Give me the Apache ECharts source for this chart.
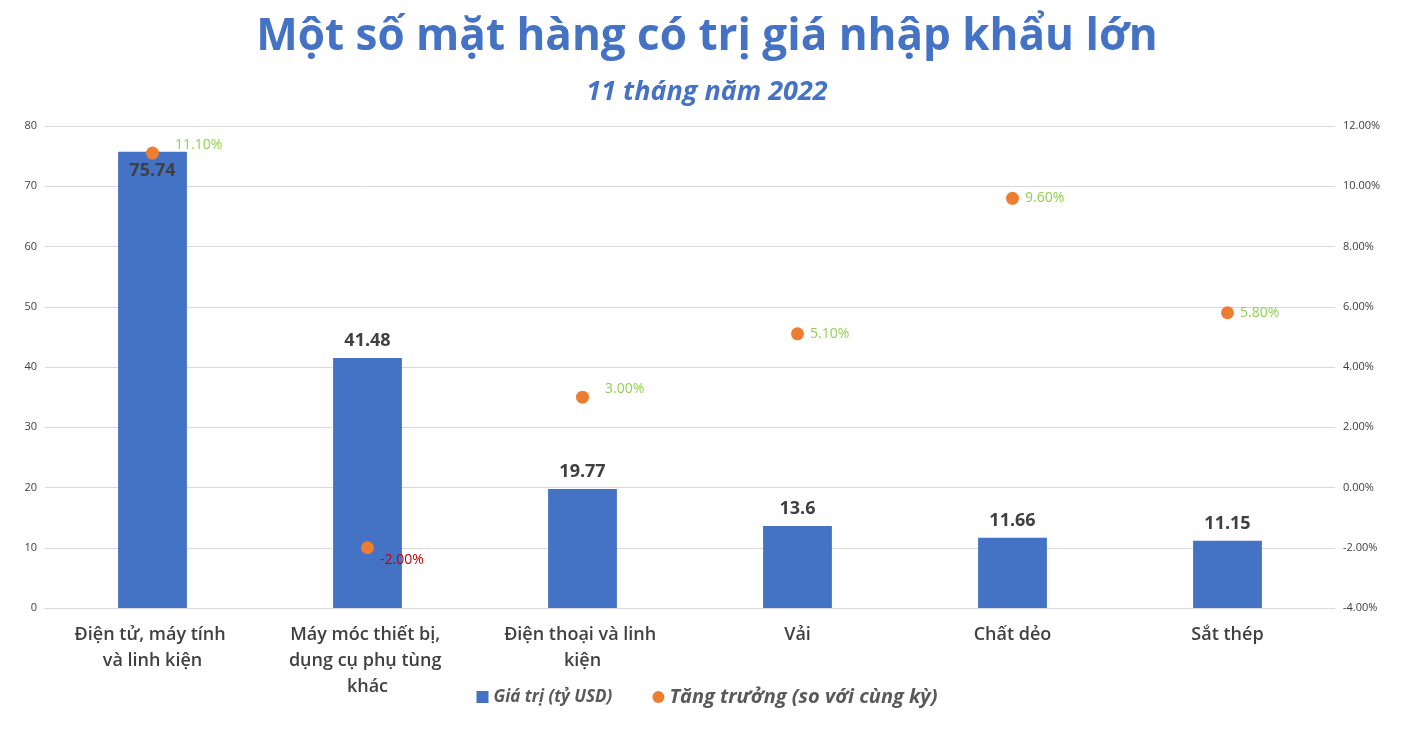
<!DOCTYPE html>
<html><head><meta charset="utf-8">
<script src="https://cdn.jsdelivr.net/npm/echarts@6/dist/echarts.min.js"></script>
<style>html,body{margin:0;padding:0;background:#fff}#main{width:1414px;height:736px}</style>
</head><body><div id="main"></div>
<script>
// Một số mặt hàng nhập khẩu lớn
var categories = ["Điện tử, máy tính và linh kiện", "Máy móc thiết bị, dụng cụ phụ tùng khác", "Điện thoại và linh kiện", "Vải", "Chất dẻo", "Sắt thép"];
var values = [75.74, 41.48, 19.77, 13.6, 11.66, 11.15];
var growth = [11.10, -2.00, 3.00, 5.10, 9.60, 5.80];

var chart = echarts.init(document.getElementById("main"));
var font = "'Open Sans', 'Noto Sans', sans-serif";
var option = {
	textStyle: { fontFamily: font },
	title: [
		{
			text: "Một số mặt hàng có trị giá nhập khẩu lớn",
			left: "center", top: 10,
			textStyle: { fontSize: 44, fontWeight: "bold", color: "#4472C4", fontFamily: font }
		},
		{
			text: "11 tháng năm 2022",
			left: "center", top: 74,
			textStyle: { fontSize: 27, fontWeight: "bold", fontStyle: "italic", color: "#4472C4", fontFamily: font }
		}
	],
	legend: {
		bottom: 24, left: "center", itemGap: 40,
		textStyle: { fontSize: 20, fontStyle: "italic", fontWeight: "bold", color: "#595959" },
		data: [
			{ name: "Giá trị (tỷ USD)", icon: "rect", textStyle: { fontSize: 17 } },
			{ name: "Tăng trưởng (so với cùng kỳ)", icon: "circle" }
		],
		itemWidth: 12, itemHeight: 12
	},
	grid: { left: 45, right: 79, top: 126, bottom: 128 },
	xAxis: {
		type: "category", data: categories,
		axisLine: { lineStyle: { color: "#d9d9d9" } },
		axisTick: { show: false },
		axisLabel: { interval: 0, hideOverlap: false, color: "#404040", fontSize: 18, fontWeight: 600, width: 212, overflow: "break", lineHeight: 26, margin: 14 }
	},
	yAxis: [
		{
			type: "value", min: 0, max: 80, interval: 10,
			axisLabel: { color: "#404040", fontSize: 11 },
			splitLine: { lineStyle: { color: "#d9d9d9" } }
		},
		{
			type: "value", min: -4, max: 12, interval: 2,
			axisLabel: { color: "#404040", fontSize: 11, formatter: function (v) { return v.toFixed(2) + "%"; } },
			splitLine: { show: false }
		}
	],
	series: [
		{
			name: "Giá trị (tỷ USD)", type: "bar", barWidth: "32%",
			itemStyle: { color: "#4472C4" },
			label: { show: true, position: "top", distance: 8, color: "#404040", fontSize: 18, fontWeight: "bold" },
			data: values.map(function (v, i) {
				return i === 0 ? { value: v, label: { position: "insideTop", distance: 10 } } : v;
			})
		},
		{
			name: "Tăng trưởng (so với cùng kỳ)", type: "scatter", yAxisIndex: 1,
			symbolSize: 13, itemStyle: { color: "#ED7D31", opacity: 1 },
			label: {
				show: true, position: "right", distance: 6, fontSize: 14,
				formatter: function (p) { return p.value.toFixed(2) + "%"; }
			},
			data: growth.map(function (g) {
				return { value: g, label: { color: g < 0 ? "#C00000" : "#92D050", offset: g < 0 ? [0, 12] : (g === 11.1 || g === 3 ? [10, -8] : [0, 0]) } };
			})
		}
	]
};
chart.setOption(option, true);
</script>
</body></html>
